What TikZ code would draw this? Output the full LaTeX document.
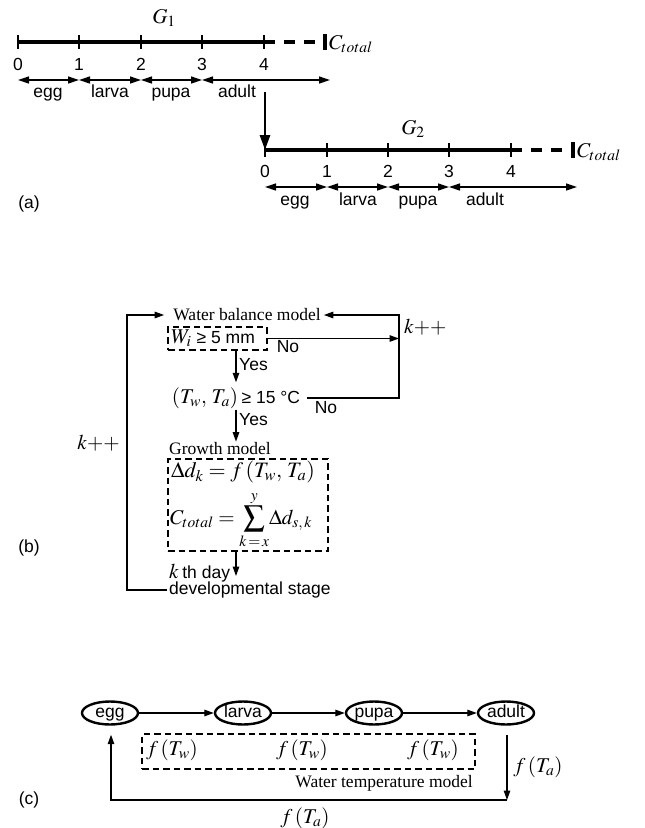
\documentclass[tikz,border=0pt]{standalone}
\usepackage{mathptmx}
\usepackage{fontspec}
\setmainfont{Liberation Serif}
\setsansfont{Liberation Sans}
\usetikzlibrary{arrows.meta,shapes.geometric}
\newcommand\mysf{\sffamily\fontsize{17.5}{19}\selectfont}
\begin{document}
\begin{tikzpicture}[x=1pt,y=-1pt,
  every node/.style={inner sep=1pt},
  sf/.style={font=\mysf},
  sr/.style={font=\rmfamily\fontsize{17.5}{19}\selectfont},
  mt/.style={font=\rmfamily\fontsize{21}{23}\selectfont},
  mtb/.style={font=\rmfamily\fontsize{22}{24}\selectfont},
  thk/.style={line width=3.3pt},
  thn/.style={line width=1.3pt},
  tickl/.style={line width=1.5pt},
  dbox/.style={draw, line width=1.2pt, dash pattern=on 6.5pt off 4pt, inner sep=0pt},
  bow/.style={thn, {Triangle[length=11pt,width=7pt]}-{Triangle[length=11pt,width=7pt]}},
  arr/.style={thn, -{Triangle[length=9.5pt,width=6.5pt]}},
  bigarr/.style={line width=2.8pt, -{Triangle[length=15pt,width=10pt]}},
  stage/.style={draw, ellipse, line width=2.4pt, minimum width=56pt, minimum height=23pt,
    inner sep=0pt, text height=12.4pt, text depth=3.6pt, font=\mysf}
]
\useasboundingbox (0,0) rectangle (645,828);

% ---------------- (a) G1
\foreach \x [count=\i from 0] in {18,79,141,202,264} {
  \coordinate (p\i) at (\x,42);
  \coordinate (q\i) at (\x,80);
  \node[sf, anchor=base] (n\i) at (\x,70) {\i};
}
\coordinate (q5) at (330,80);
\draw[thk] (p0) -- (p4);
\foreach \i in {0,...,4} \draw[tickl] (p\i) ++(0,-7) -- ++(0,14);
\draw[line width=2pt] (p0) ++(0,-7) -- ++(0,14);
\coordinate (p5) at (316,42);
\draw[thk, dash pattern=on 11pt off 9pt] (p4) -- (p5);
\coordinate (p6) at (325,42);
\draw[thk] (p6) ++(0,-8) -- ++(0,16);
\node[mt, anchor=west] (ct1) at (328,44) {$C_{total}$};
\node[mt] (g1) at (164,18) {$G_1$};
\draw[bow] (q0) -- (q1);
\draw[bow] (q1) -- (q2);
\draw[bow] (q2) -- (q3);
\draw[bow] (q3) -- (q5);
\node[sf, anchor=base] (e1) at (48,97) {egg};
\node[sf, anchor=base] (l1) at (110,97) {larva};
\node[sf, anchor=base] (u1) at (171,97) {pupa};
\node[sf, anchor=base] (a1) at (237,97) {adult};

% down arrow
\coordinate (d0) at (265,92);

% ---------------- (a) G2
\foreach \x [count=\i from 0] in {265,327,388,449,511} {
  \coordinate (r\i) at (\x,150);
  \coordinate (s\i) at (\x,187);
  \node[sf, anchor=base] (m\i) at (\x,177) {\i};
}
\coordinate (s5) at (577,187);
\draw[bigarr] (d0) -- (r0);
\draw[thk] (r0) -- (r4);
\foreach \i in {0,...,4} \draw[tickl] (r\i) ++(0,-7) -- ++(0,14);
\coordinate (r5) at (563,150);
\draw[thk, dash pattern=on 11pt off 9pt] (r4) -- (r5);
\coordinate (r6) at (573,150);
\draw[thk] (r6) ++(0,-8) -- ++(0,16);
\node[mt, anchor=west] (ct2) at (576,152) {$C_{total}$};
\node[mt] (g2) at (413,129) {$G_2$};
\draw[bow] (s0) -- (s1);
\draw[bow] (s1) -- (s2);
\draw[bow] (s2) -- (s3);
\draw[bow] (s3) -- (s5);
\node[sf, anchor=base] (e2) at (295,205) {egg};
\node[sf, anchor=base] (l2) at (358,205) {larva};
\node[sf, anchor=base] (u2) at (418,205) {pupa};
\node[sf, anchor=base] (a2) at (485,205) {adult};
\node[sf] (la) at (29,204) {(a)};

% ---------------- (b)
\coordinate (Rx) at (399,0);
\coordinate (Yx) at (236,0);
\coordinate (Lx) at (127,0);
\node[sr, inner sep=3pt] (wb) at (247,315) {Water balance model};
\node[dbox, minimum width=99pt, minimum height=23pt] (wbox) at (217.5,338.5) {};
\node[mt, anchor=west, inner sep=0pt] (wi) at (171,338) {$W_i$ {\mysf ≥ 5 mm}};
\draw[arr] (wbox.east) -- (wbox.east -| Rx);
\node[sf] (no1) at (288,347) {No};
\node[mt] (tc) at (236,398) {$(T_w,\,T_a)$\,{\mysf ≥ 15 °C}};
\draw[arr, shorten >=4pt] (wbox.south -| Yx) -- (tc.north -| Yx);
\node[sf, anchor=west] (yes1) at (238,365) {Yes};
\draw[arr, shorten <=6pt] (tc.east) -- (tc.east -| Rx) |- (wb.east);
\node[sf] (no2) at (326,408) {No};
\node[mt, anchor=west] (kr) at (403,327) {$k{+}{+}$};
\node[sr] (gm) at (220,449) {Growth model};
\draw[arr] (tc.south -| Yx) -- (gm.north -| Yx);
\node[sf, anchor=west] (yes2) at (238,420) {Yes};
\node[dbox, minimum width=160pt, minimum height=92pt] (gbox) at (248,505) {};
\node[mtb, anchor=west, inner sep=0pt] (eq1) at (171,472) {$\Delta d_k = f\,(T_w,\,T_a)$};
\node[mt, anchor=west, inner sep=0pt] (eq2) at (170,520) {$\displaystyle C_{total} = \sum_{k\,=\,x}^{y}\!\Delta d_{s,\,k}$};
\coordinate (kd) at (236,576);
\draw[arr] (gbox.south -| Yx) -- (kd);
\node[mt, anchor=west, inner sep=0pt] (kday) at (169,573) {$k$\,{\mysf th day}};
\node[sf, anchor=west, inner sep=0pt] (devs) at (169,590) {developmental stage};
\draw[arr, shorten >=6pt] ([xshift=-2pt]devs.west) -- (devs.west -| Lx) |- (wb.west);
\node[mt, anchor=east] (kl) at (121,443) {$k{+}{+}$};
\node[sf] (lb) at (29,548) {(b)};

% ---------------- (c)
\node[stage] (egg) at (110,713) {egg};
\node[stage] (larva) at (243,713) {larva};
\node[stage] (pupa) at (374,713) {pupa};
\node[stage] (adult) at (506,713) {adult};
\draw[arr] (egg) -- (larva);
\draw[arr] (larva) -- (pupa);
\draw[arr] (pupa) -- (adult);
\node[dbox, minimum width=333pt, minimum height=35pt] (wtbox) at (308.5,751.5) {};
\node[mt] (fw1) at (172,750) {$f\,(T_w)$};
\node[mt] (fw2) at (302,750) {$f\,(T_w)$};
\node[mt] (fw3) at (433,750) {$f\,(T_w)$};
\node[sr, anchor=east] (wtm) at (474,783) {Water temperature model};
\coordinate (ad1) at (507,735);
\coordinate (ad2) at (507,800);
\coordinate (eg1) at (111,800);
\draw[arr] (ad1) -- (ad2);
\draw[arr, shorten >=9pt] (ad2) -- (eg1) -- (egg.south -| eg1);
\node[mt] (fta1) at (538,767) {$f\,(T_a)$};
\node[mt] (fta2) at (305,818) {$f\,(T_a)$};
\node[sf] (lc) at (29,800) {(c)};
\end{tikzpicture}
\end{document}
